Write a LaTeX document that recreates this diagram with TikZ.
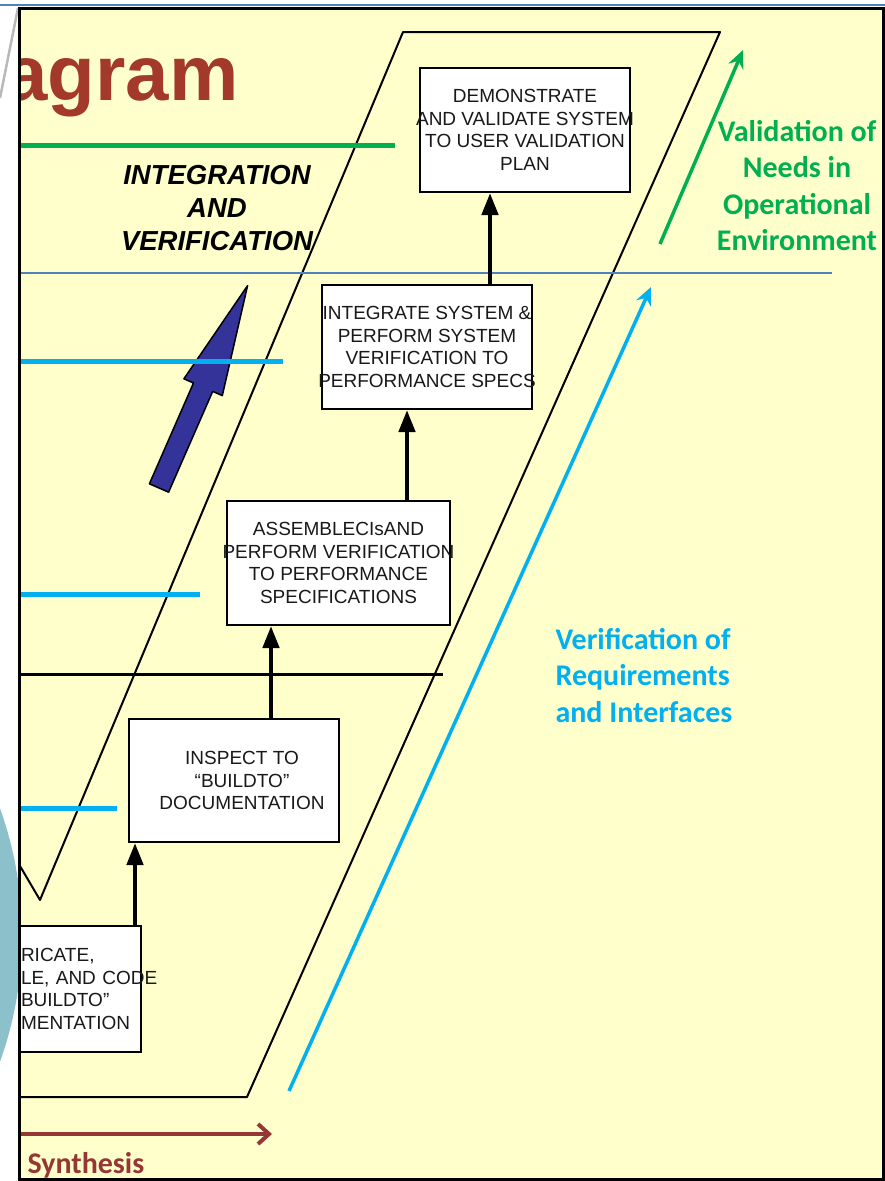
\documentclass[tikz,border=0pt]{standalone}
\usepackage{fontspec}
\setmainfont{Liberation Sans}
\newfontfamily\calibri{Carlito}
\usetikzlibrary{arrows.meta}
\tikzset{>=Triangle}
\definecolor{panel}{HTML}{FFFFCC}
\definecolor{vgreen}{HTML}{00B050}
\definecolor{vcyan}{HTML}{00B0F0}
\definecolor{thinblue}{HTML}{4F81BD}
\definecolor{titlered}{HTML}{A3392A}
\definecolor{synred}{HTML}{953735}
\definecolor{navyarrow}{HTML}{333399}
\definecolor{discteal}{HTML}{8CC0CB}
\newcommand{\stageline}[1]{\makebox[0pt]{#1}}
\newcommand{\cutline}[1]{\makebox[0pt][l]{#1}}

\begin{document}
\begin{tikzpicture}[x=1pt,y=-1pt,
  stage/.style={draw=black,line width=2pt,fill=white,inner sep=0pt,align=center,
    font=\fontsize{19}{22.5}\selectfont,text=black!90},
  flow/.style={->,line width=4.5pt,>={Triangle[width=16pt,length=22pt]}},
  rise/.style={-{Stealth[length=18pt,width=16pt,inset=6pt]},line width=3.5pt},
  label/.style={font=\calibri\bfseries\fontsize{30}{36.5}\selectfont},
  rule/.style={vcyan,line width=5pt}]
  \useasboundingbox (0,0) rectangle (885,1181);
  \fill[white] (0,0) rectangle (885,1181);
  % window edge
  \draw[thinblue,line width=1.5pt] (0,5) -- (885,5);
  \draw[gray!55,line width=2.5pt] (0,98) -- (18,8);
  \begin{scope}
    \clip (0,0) rectangle (20,1181);
    \fill[discteal] (-352,935) circle (374);
  \end{scope}
  % panel
  \fill[panel] (19,8) rectangle (883,1179);
  \begin{scope}
    \clip (19,8) rectangle (883,1179);
    \node[font=\bfseries\fontsize{78}{90}\selectfont,text=titlered,anchor=base east] (title) at (242,100) {agram};
    \node[font=\bfseries\itshape\fontsize{27.5}{33}\selectfont,align=center] (phase) at (217,208) {INTEGRATION\\AND\\VERIFICATION};
    % right arm of the V
    \fill[panel] (10,849) -- (40,900) -- (403,32) -- (720,32) -- (247,1097) -- (10,1097) -- cycle;
    \draw[line width=2pt,line join=round] (10,849) -- (40,900) -- (403,32) -- (720,32) -- (247,1097) -- (10,1097);
    % block arrow
    \draw[fill=navyarrow,line width=1.5pt,line join=round] (149.4,483.8) -- (193.5,383) -- (183.9,378.8) -- (247.6,285.6)
      -- (222.3,395.6) -- (212.7,391.4) -- (168.6,492.2) -- cycle;
    % level lines
    \draw[vgreen,line width=5pt] (19,145) -- (395,145);
    \draw[thinblue,line width=1.3pt] (19,273) -- (832,273);
    \draw[rule] (19,361) -- (283,361);
    \draw[rule] (19,594) -- (200,594);
    \draw[rule] (19,808) -- (117,808);
    \draw[line width=3pt] (19,674) -- (443,674);
    % stages
    \node[stage,minimum width=210pt,minimum height=124pt] (demo) at (525,130)
      {\stageline{DEMONSTRATE}\\\stageline{AND VALIDATE SYSTEM}\\\stageline{TO USER VALIDATION}\\\stageline{PLAN}};
    \node[stage,minimum width=210pt,minimum height=124pt] (integ) at (427,347)
      {\stageline{INTEGRATE SYSTEM \&}\\\stageline{PERFORM SYSTEM}\\\stageline{VERIFICATION TO}\\\stageline{PERFORMANCE SPECS}};
    \node[stage,minimum width=223pt,minimum height=124pt] (assem) at (338.5,563)
      {\stageline{ASSEMBLECIsAND}\\\stageline{PERFORM VERIFICATION}\\\stageline{TO PERFORMANCE}\\\stageline{SPECIFICATIONS}};
    \node[stage,minimum width=210pt,minimum height=123pt] (inspect) at (234,780.5)
      {\hspace{16pt}\stageline{INSPECT TO}\\\hspace{16pt}\stageline{“BUILDTO”}\\\hspace{16pt}\stageline{DOCUMENTATION}};
    \node[stage,minimum width=122pt,minimum height=126pt,text width=118pt,align=left] (fab) at (80,989)
      {\cutline{RICATE,}\\\cutline{LE, AND CODE}\\\cutline{BUILDTO”}\\\cutline{MENTATION}};
    % stage arrows
    \draw[flow] ([xshift=7pt]inspect.south west |- fab.north) -- ([xshift=7pt]inspect.south west);
    \draw[flow] ([xshift=45pt]assem.south west |- inspect.north) -- ([xshift=45pt]assem.south west);
    \draw[flow] ([xshift=86pt]integ.south west |- assem.north) -- ([xshift=86pt]integ.south west);
    \draw[flow] ([xshift=71pt]demo.south west |- integ.north) -- ([xshift=71pt]demo.south west);
    % validation and verification
    \coordinate (gtail) at (660,244);
    \coordinate (ghead) at (743,50);
    \draw[rise,vgreen] (gtail) -- (ghead);
    \node[label,text=vgreen,align=center] (valid) at (797,185.5) {Validation of\\Needs in\\Operational\\Environment};
    \coordinate (ctail) at (289,1091);
    \coordinate (chead) at (651,287);
    \draw[rise,vcyan] (ctail) -- (chead);
    \node[label,text=vcyan,align=left,anchor=west] (verif) at (552,675.5) {Verification of\\Requirements\\and Interfaces};
    % synthesis
    \coordinate (stail) at (10,1134);
    \coordinate (shead) at (272,1134);
    \draw[synred,line width=4pt,-{Straight Barb[length=11pt,width=20pt]}] (stail) -- (shead);
    \node[label,text=synred,anchor=base west] (synth) at (24,1173) {Synthesis};
  \end{scope}
  \draw[line width=3pt] (19.5,8) rectangle (883.5,1179.5);
\end{tikzpicture}
\end{document}
